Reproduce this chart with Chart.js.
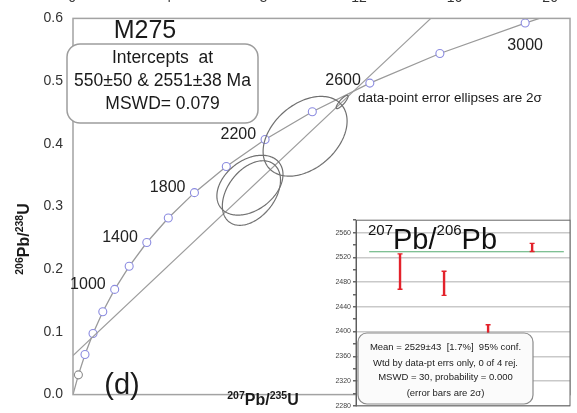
<!DOCTYPE html>
<html>
<head>
<meta charset="utf-8">
<script src="https://cdn.jsdelivr.net/npm/chart.js@4.4.1/dist/chart.umd.min.js"></script>
<style>
  html, body { margin: 0; padding: 0; background: #fff; }
  #wrap { position: relative; width: 577px; height: 413px; overflow: hidden; }
  #main { position: absolute; left: 0; top: 0; }
  #inset { position: absolute; left: 330px; top: 214px; }
</style>
</head>
<body>
<div id="wrap">
  <canvas id="main" width="577" height="413"></canvas>
  <canvas id="inset" width="244" height="198"></canvas>
</div>
<script>
const FONT = '"Liberation Sans", Arial, Helvetica, sans-serif';

// ---- Concordia: 207Pb/235U and 206Pb/238U at 200 Ma steps ----
const tickAges = [200, 400, 600, 800, 1000, 1200, 1400, 1600, 1800, 2000, 2200, 2400, 2600, 2800, 3000];
const tickX = [0.2177, 0.4828, 0.8057, 1.1987, 1.6774, 2.2603, 2.9700, 3.8346, 4.8870, 6.1688, 7.7296, 9.6303, 11.945, 14.764, 18.196];
const tickY = [0.0315, 0.0640, 0.0975, 0.1321, 0.1678, 0.2046, 0.2426, 0.2817, 0.3221, 0.3638, 0.4068, 0.4511, 0.4968, 0.5440, 0.5926];
const labelledAges = [1000, 1400, 1800, 2200, 2600, 3000];
const curveStart = { x: 0, y: 0 };
const curveEnd = { x: 18.77, y: 0.6 };

// ---- Discordia through the 550 Ma and 2551 Ma intercepts ----
const discordiaX = [0, 14.40];
const discordiaY = [0.0622, 0.6];

// ---- Analyses: centre, 2-sigma half-widths and error correlation ----
const spotX   = [10.83, 9.34, 7.12, 7.18];
const spotXe  = [0.24, 1.69, 1.33, 1.17];
const spotY   = [0.4667, 0.412, 0.334, 0.3215];
const spotYe  = [0.0106, 0.0636, 0.0477, 0.0515];
const spotRho = [0.85, 0.38, 0.36, 0.40];

// ---- Text ----
const sampleName = 'M275';
const interceptLines = ['Intercepts  at', '550\u00b150 & 2551\u00b138 Ma', 'MSWD= 0.079'];
const ellipseNote = 'data-point error ellipses are 2\u03c3';
const panelTag = '(d)';
const topTickLabels = ['0', '4', '8', '12', '16', '20'];
const topTickValues = [0, 4, 8, 12, 16, 20];

// ---- 207Pb/206Pb ages (inset) ----
const spotIndex = [1, 2, 3, 4];
const spotAge = [2497, 2478, 2398, 2536];
const spotAgeErr = [28.5, 19.5, 13, 6.5];
const weightedMean = 2529;
const meanSpan = [0.3, 4.72];
const meanLines = [
  'Mean = 2529\u00b143  [1.7%]  95% conf.',
  'Wtd by data-pt errs only, 0 of 4 rej.',
  'MSWD = 30, probability = 0.000',
  '(error bars are 2\u03c3)'
];

// draws text with superscript pieces; parts = [{t, sup}]
function drawRich(ctx, parts, x, y, align, baseFont, supFont, raise) {
  let w = 0;
  parts.forEach(p => { ctx.font = p.sup ? supFont : baseFont; w += ctx.measureText(p.t).width; });
  let cx = align === 'center' ? x - w / 2 : (align === 'right' ? x - w : x);
  ctx.textAlign = 'left';
  ctx.textBaseline = 'alphabetic';
  parts.forEach(p => {
    ctx.font = p.sup ? supFont : baseFont;
    ctx.fillText(p.t, cx, p.sup ? y - raise : y);
    cx += ctx.measureText(p.t).width;
  });
}

function roundRect(ctx, x, y, w, h, r) {
  ctx.beginPath();
  ctx.moveTo(x + r, y);
  ctx.lineTo(x + w - r, y);
  ctx.arcTo(x + w, y, x + w, y + r, r);
  ctx.lineTo(x + w, y + h - r);
  ctx.arcTo(x + w, y + h, x + w - r, y + h, r);
  ctx.lineTo(x + r, y + h);
  ctx.arcTo(x, y + h, x, y + h - r, r);
  ctx.lineTo(x, y + r);
  ctx.arcTo(x, y, x + r, y, r);
  ctx.closePath();
}

const concordiaPoints = [curveStart]
  .concat(tickX.map((x, i) => ({ x, y: tickY[i] })))
  .concat([curveEnd]);
const pointRadii = concordiaPoints.map((p, i) => (i === 0 || i === concordiaPoints.length - 1) ? 0 : 4);
const pointBorders = concordiaPoints.map((p, i) => i === 1 ? '#8c8c8c' : '#8b8be0');

const mainDecor = {
  id: 'mainDecor',
  afterDatasetsDraw(chart) {
    const ctx = chart.ctx;
    const xs = chart.scales.x, ys = chart.scales.y, xt = chart.scales.xt;
    const a = chart.chartArea;
    ctx.save();

    // error ellipses
    ctx.strokeStyle = '#707070';
    ctx.lineWidth = 1.2;
    spotX.forEach((cx, k) => {
      const s = Math.sqrt(1 - spotRho[k] * spotRho[k]);
      ctx.beginPath();
      for (let i = 0; i <= 160; i++) {
        const t = i / 160 * 2 * Math.PI;
        const px = xs.getPixelForValue(cx + spotXe[k] * Math.cos(t));
        const py = ys.getPixelForValue(spotY[k] + spotYe[k] * (spotRho[k] * Math.cos(t) + s * Math.sin(t)));
        if (i === 0) ctx.moveTo(px, py); else ctx.lineTo(px, py);
      }
      ctx.closePath();
      ctx.stroke();
    });

    // frame
    ctx.strokeStyle = '#a3a3a3';
    ctx.lineWidth = 1.5;
    ctx.strokeRect(a.left, a.top, a.right - a.left, a.bottom - a.top);

    // tick labels along the top edge, cut by the canvas edge
    ctx.fillStyle = '#333';
    ctx.font = '14px ' + FONT;
    ctx.textAlign = 'center';
    ctx.textBaseline = 'alphabetic';
    topTickValues.forEach((v, i) => ctx.fillText(topTickLabels[i], xt.getPixelForValue(v), 2));

    // age labels beside the concordia ticks
    ctx.fillStyle = '#222';
    ctx.font = '16px ' + FONT;
    ctx.textBaseline = 'middle';
    labelledAges.forEach(age => {
      const i = tickAges.indexOf(age);
      const px = xs.getPixelForValue(tickX[i]);
      const py = ys.getPixelForValue(tickY[i]);
      if (age === 3000) {
        ctx.textAlign = 'center';
        ctx.fillText(String(age), px, py + 23);
      } else {
        ctx.textAlign = 'right';
        ctx.fillText(String(age), px - 9, py - (age === 2600 ? 3 : 5));
      }
    });

    // sample name
    ctx.textAlign = 'center';
    ctx.font = '25px ' + FONT;
    ctx.fillStyle = '#1a1a1a';
    ctx.fillText(sampleName, 145, 31);

    // intercept box
    roundRect(ctx, 67, 44, 191, 79, 13);
    ctx.fillStyle = '#fff';
    ctx.fill();
    ctx.strokeStyle = '#9d9d9d';
    ctx.lineWidth = 1.5;
    ctx.stroke();
    ctx.fillStyle = '#1a1a1a';
    ctx.font = '17.5px ' + FONT;
    [58, 81, 104].forEach((y, i) => ctx.fillText(interceptLines[i], 162.5, y));

    // ellipse note
    ctx.textAlign = 'left';
    ctx.font = '13.5px ' + FONT;
    ctx.fillText(ellipseNote, 358, 98);

    // panel tag
    ctx.textAlign = 'center';
    ctx.font = '29px ' + FONT;
    ctx.fillText(panelTag, 122, 386);

    // x axis title
    ctx.fillStyle = '#1a1a1a';
    drawRich(ctx, [{ t: '207', sup: true }, { t: 'Pb/' }, { t: '235', sup: true }, { t: 'U' }],
      263, 405, 'center', 'bold 16px ' + FONT, 'bold 10.5px ' + FONT, 6);

    // y axis title
    ctx.save();
    ctx.translate(29, 239);
    ctx.rotate(-Math.PI / 2);
    drawRich(ctx, [{ t: '206', sup: true }, { t: 'Pb/' }, { t: '238', sup: true }, { t: 'U' }],
      0, 0, 'center', 'bold 16px ' + FONT, 'bold 10.5px ' + FONT, 6);
    ctx.restore();

    ctx.restore();
  }
};

new Chart(document.getElementById('main'), {
  type: 'scatter',
  data: {
    datasets: [
      {
        data: discordiaX.map((x, i) => ({ x, y: discordiaY[i] })),
        showLine: true,
        borderColor: '#9c9c9c',
        borderWidth: 1.2,
        pointRadius: 0
      },
      {
        data: concordiaPoints,
        showLine: true,
        borderColor: '#9a9a9a',
        borderWidth: 1.3,
        pointRadius: pointRadii,
        pointBackgroundColor: '#ffffff',
        pointBorderColor: pointBorders,
        pointBorderWidth: 1.1
      }
    ]
  },
  options: {
    responsive: false,
    animation: false,
    devicePixelRatio: 1,
    layout: { padding: { top: 13, right: 7, bottom: 4, left: 0 } },
    plugins: { legend: { display: false }, tooltip: { enabled: false } },
    scales: {
      x: { type: 'linear', min: 0, max: 20, display: false },
      xt: { type: 'linear', axis: 'x', min: 0.04, max: 20.83, display: false },
      y: {
        type: 'linear', min: 0, max: 0.6,
        afterFit: s => { s.width = 73; },
        grid: { display: false, drawTicks: false },
        border: { display: false },
        ticks: {
          stepSize: 0.1,
          padding: 10,
          color: '#333',
          font: { family: FONT, size: 14 },
          callback: v => Number(v).toFixed(1)
        }
      }
    }
  },
  plugins: [mainDecor]
});

const insetDecor = {
  id: 'insetDecor',
  beforeDraw(chart) {
    const a = chart.chartArea, ctx = chart.ctx;
    ctx.save();
    ctx.fillStyle = '#fff';
    ctx.fillRect(a.left, a.top, a.right - a.left, a.bottom - a.top);
    ctx.restore();
  },
  afterDatasetsDraw(chart) {
    const ctx = chart.ctx, a = chart.chartArea;
    const xs = chart.scales.x, ys = chart.scales.y;
    ctx.save();

    // 2-sigma error bars
    ctx.strokeStyle = '#e3222b';
    spotIndex.forEach((n, i) => {
      const px = xs.getPixelForValue(n);
      const top = ys.getPixelForValue(spotAge[i] + spotAgeErr[i]);
      const bot = ys.getPixelForValue(spotAge[i] - spotAgeErr[i]);
      ctx.lineWidth = 2.4;
      ctx.beginPath(); ctx.moveTo(px, top); ctx.lineTo(px, bot); ctx.stroke();
      ctx.lineWidth = 1.4;
      ctx.beginPath();
      ctx.moveTo(px - 2.5, top); ctx.lineTo(px + 2.5, top);
      ctx.moveTo(px - 2.5, bot); ctx.lineTo(px + 2.5, bot);
      ctx.stroke();
    });

    // frame
    ctx.strokeStyle = '#666';
    ctx.lineWidth = 1;
    ctx.strokeRect(a.left, a.top, a.right - a.left, a.bottom - a.top);

    // title
    ctx.fillStyle = '#111';
    drawRich(ctx, [{ t: '207', sup: true }, { t: 'Pb/' }, { t: '206', sup: true }, { t: 'Pb' }],
      a.left + 12, a.top + 29, 'left', '29px ' + FONT, '15px ' + FONT, 14);

    // statistics box
    const bx = a.left + 2, by = 333 - 214, bw = 175, bh = 71;
    roundRect(ctx, bx, by, bw, bh, 9);
    ctx.fillStyle = '#fbfbfb';
    ctx.fill();
    ctx.strokeStyle = '#8a8a8a';
    ctx.lineWidth = 1.2;
    ctx.stroke();
    ctx.fillStyle = '#222';
    ctx.font = '9.5px ' + FONT;
    ctx.textAlign = 'center';
    ctx.textBaseline = 'middle';
    [14, 30, 44, 60].forEach((dy, i) => ctx.fillText(meanLines[i], bx + bw / 2, by + dy));

    ctx.restore();
  }
};

new Chart(document.getElementById('inset'), {
  type: 'scatter',
  data: {
    datasets: [{
      data: meanSpan.map(x => ({ x, y: weightedMean })),
      showLine: true,
      borderColor: '#55ab70',
      borderWidth: 1.2,
      pointRadius: 0
    }]
  },
  options: {
    responsive: false,
    animation: false,
    devicePixelRatio: 1,
    layout: { padding: { top: 4, right: 4, bottom: 5, left: 0 } },
    plugins: { legend: { display: false }, tooltip: { enabled: false } },
    scales: {
      x: { type: 'linear', min: 0, max: 4.86, display: false },
      y: {
        type: 'linear', min: 2280, max: 2580,
        afterFit: s => { s.width = 26; },
        ticks: {
          stepSize: 20,
          autoSkip: false,
          padding: 2,
          color: '#444',
          font: { family: FONT, size: 7 },
          callback: v => (v % 40 === 0 ? String(v) : '')
        },
        grid: {
          color: c => (c.tick && c.tick.value % 40 === 0) ? '#c9c9c9' : 'rgba(0,0,0,0)',
          lineWidth: 1.5,
          tickColor: '#666',
          tickLength: 3
        },
        border: { display: true, color: '#555', width: 1 }
      }
    }
  },
  plugins: [insetDecor]
});
</script>
</body>
</html>
